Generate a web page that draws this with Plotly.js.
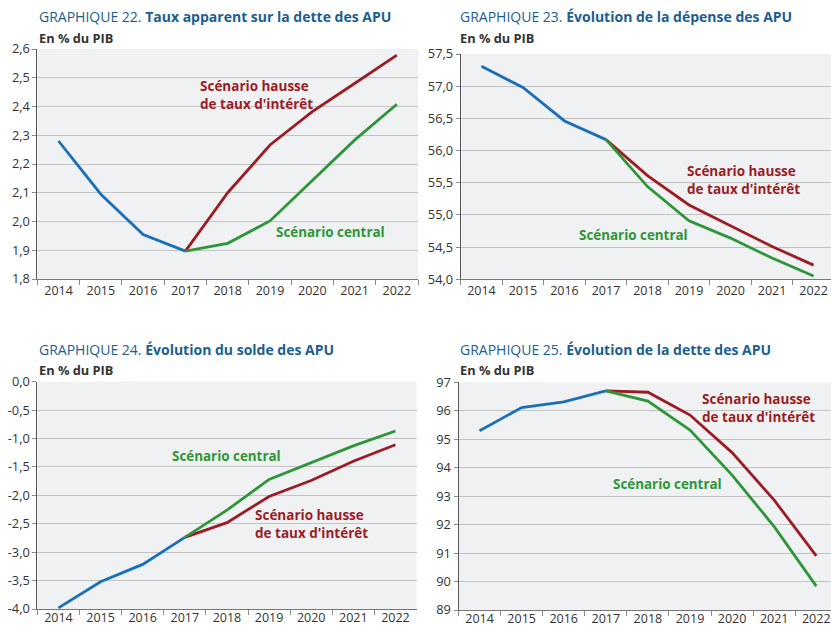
<!DOCTYPE html>
<html>
<head>
<meta charset="utf-8">
<script src="https://cdn.plot.ly/plotly-3.0.1.min.js"></script>
<style>html,body{margin:0;padding:0;background:#fff;}#chart{width:831px;height:629px;}</style>
</head>
<body>
<div id="chart"></div>
<script>
// ---- Data ----
const years = ["2014","2015","2016","2017","2018","2019","2020","2021","2022"];
const histYears = ["2014","2015","2016","2017"];
const projYears = ["2017","2018","2019","2020","2021","2022"];

// Graphique 22 : Taux apparent sur la dette des APU
const g22Hist = [2.28, 2.095, 1.955, 1.897];
const g22Hausse = [1.897, 2.10, 2.266, 2.382, 2.48, 2.579];
const g22Central = [1.897, 1.924, 2.002, 2.144, 2.283, 2.408];

// Graphique 23 : Évolution de la dépense des APU
const g23Hist = [57.31, 56.98, 56.46, 56.17];
const g23Hausse = [56.17, 55.61, 55.155, 54.83, 54.51, 54.22];
const g23Central = [56.17, 55.44, 54.91, 54.64, 54.33, 54.05];

// Graphique 24 : Évolution du solde des APU
const g24Hist = [-3.98, -3.52, -3.215, -2.74];
const g24Hausse = [-2.74, -2.48, -2.02, -1.74, -1.40, -1.11];
const g24Central = [-2.74, -2.26, -1.72, -1.42, -1.13, -0.868];

// Graphique 25 : Évolution de la dette des APU
const g25Hist = [95.30, 96.11, 96.31, 96.70];
const g25Hausse = [96.70, 96.65, 95.85, 94.53, 92.86, 90.90];
const g25Central = [96.70, 96.34, 95.32, 93.74, 91.93, 89.84];

// Tick labels
const g22Ticks = [1.8, 1.9, 2.0, 2.1, 2.2, 2.3, 2.4, 2.5, 2.6];
const g22TickText = ["1,8","1,9","2,0","2,1","2,2","2,3","2,4","2,5","2,6"];
const g23Ticks = [54.0, 54.5, 55.0, 55.5, 56.0, 56.5, 57.0, 57.5];
const g23TickText = ["54,0","54,5","55,0","55,5","56,0","56,5","57,0","57,5"];
const g24Ticks = [-4.0, -3.5, -3.0, -2.5, -2.0, -1.5, -1.0, -0.5, 0.0];
const g24TickText = ["-4,0","-3,5","-3,0","-2,5","-2,0","-1,5","-1,0","-0,5","0,0"];
const g25Ticks = [89, 90, 91, 92, 93, 94, 95, 96, 97];
const g25TickText = ["89","90","91","92","93","94","95","96","97"];

const titles = [
  ["GRAPHIQUE 22. ", "Taux apparent sur la dette des APU"],
  ["GRAPHIQUE 23. ", "Évolution de la dépense des APU"],
  ["GRAPHIQUE 24. ", "Évolution du solde des APU"],
  ["GRAPHIQUE 25. ", "Évolution de la dette des APU"]
];
const unitLabel = "En % du PIB";
const labelHausse = "Scénario hausse<br>de taux d'intérêt";
const labelCentral = "Scénario central";

// ---- Styles ----
const BLUE = "#1a70b8", RED = "#9b1c25", GREEN = "#2e9639", TITLE = "#1c5e8e";
const FONT = "Open Sans, Noto Sans, sans-serif";
const W = 831, H = 629;
const px = v => v / W;
const py = v => 1 - v / H;

const panels = [
  {hist: g22Hist, hausse: g22Hausse, central: g22Central, ticks: g22Ticks, text: g22TickText,
   yr: [1.8, 2.6], xd: [37.4, 418], yd: [279, 49], xr: [-0.5, 8.5], standoff: 0},
  {hist: g23Hist, hausse: g23Hausse, central: g23Central, ticks: g23Ticks, text: g23TickText,
   yr: [54.0, 57.5], xd: [460.7, 831], yd: [279.3, 54], xr: [-0.5, 8.42], standoff: 0},
  {hist: g24Hist, hausse: g24Hausse, central: g24Central, ticks: g24Ticks, text: g24TickText,
   yr: [-4.0, 0.0], xd: [37.4, 416.5], yd: [609, 381.7], xr: [-0.5, 8.5], standoff: -3},
  {hist: g25Hist, hausse: g25Hausse, central: g25Central, ticks: g25Ticks, text: g25TickText,
   yr: [89, 97], xd: [458.5, 831], yd: [610, 382.3], xr: [-0.5, 8.35], standoff: -3}
];

const data = [];
const layout = {
  width: W, height: H,
  margin: {l: 0, r: 0, t: 0, b: 0},
  paper_bgcolor: "#ffffff",
  showlegend: false,
  font: {family: FONT, color: "#333333", size: 12},
  annotations: []
};

panels.forEach((p, i) => {
  const n = i + 1;
  const xa = n === 1 ? "x" : "x" + n;
  const ya = n === 1 ? "y" : "y" + n;
  const common = {mode: "lines", xaxis: xa, yaxis: ya, hoverinfo: "skip", cliponaxis: false};
  data.push(Object.assign({x: histYears, y: p.hist, line: {color: BLUE, width: 2.8}}, common));
  data.push(Object.assign({x: projYears, y: p.hausse, line: {color: RED, width: 2.8}}, common));
  data.push(Object.assign({x: projYears, y: p.central, line: {color: GREEN, width: 2.8}}, common));

  layout["xaxis" + (n === 1 ? "" : n)] = {
    domain: [px(p.xd[0]), px(p.xd[1])],
    anchor: ya,
    type: "category",
    categoryorder: "array",
    categoryarray: years,
    range: p.xr,
    tickson: "boundaries",
    ticks: "outside",
    ticklen: 5,
    tickcolor: "#888888",
    ticklabelstandoff: p.standoff,
    showline: true,
    linecolor: "#777777",
    linewidth: 1,
    showgrid: false,
    zeroline: false,
    fixedrange: true,
    tickfont: {family: FONT, size: 12.5, color: "#333333"}
  };
  layout["yaxis" + (n === 1 ? "" : n)] = {
    domain: [py(p.yd[0]), py(p.yd[1])],
    anchor: xa,
    range: p.yr,
    tickmode: "array",
    tickvals: p.ticks,
    ticktext: p.text,
    ticks: "outside",
    ticklen: 4,
    tickcolor: "#888888",
    showline: true,
    linecolor: "#555555",
    linewidth: 1,
    showgrid: true,
    gridcolor: "#c2c2c2",
    gridwidth: 1,
    zeroline: false,
    fixedrange: true,
    tickfont: {family: FONT, size: 12.8, color: "#333333"}
  };
});

// background rectangles for plot areas
layout.shapes = panels.map(p => ({
  type: "rect", xref: "paper", yref: "paper", layer: "below",
  x0: px(p.xd[0]), x1: px(p.xd[1]), y0: py(p.yd[0]), y1: py(p.yd[1]),
  fillcolor: "#eff1f3", line: {width: 0}
}));

// titles and unit labels
const titlePos = [[37, 16], [458, 16], [37, 350], [458, 350]];
const unitPos = [[37, 38], [458, 38], [37, 370], [458, 370]];
titles.forEach((t, i) => {
  layout.annotations.push({
    xref: "paper", yref: "paper", x: px(titlePos[i][0]), y: py(titlePos[i][1]),
    xanchor: "left", yanchor: "middle", showarrow: false,
    text: t[0] + "<b>" + t[1] + "</b>",
    font: {family: FONT, size: 14, color: TITLE}
  });
  layout.annotations.push({
    xref: "paper", yref: "paper", x: px(unitPos[i][0]), y: py(unitPos[i][1]),
    xanchor: "left", yanchor: "middle", showarrow: false,
    text: "<b>" + unitLabel + "</b>",
    font: {family: FONT, size: 12.8, color: "#333333"}
  });
});

// series labels
const haussePos = [[198, 95], [685, 180], [253, 524], [700, 408]];
const centralPos = [[274, 232], [577, 235], [170, 456], [611, 484]];
haussePos.forEach((pos, i) => {
  layout.annotations.push({
    xref: "paper", yref: "paper", x: px(pos[0]), y: py(pos[1]),
    xanchor: "left", yanchor: "middle", align: "left", showarrow: false,
    text: "<b>" + labelHausse + "</b>",
    font: {family: FONT, size: 13.5, color: RED}
  });
});
centralPos.forEach((pos, i) => {
  layout.annotations.push({
    xref: "paper", yref: "paper", x: px(pos[0]), y: py(pos[1]),
    xanchor: "left", yanchor: "middle", showarrow: false,
    text: "<b>" + labelCentral + "</b>",
    font: {family: FONT, size: 13.4, color: GREEN}
  });
});

Plotly.newPlot("chart", data, layout, {staticPlot: true, displayModeBar: false});
</script>
</body>
</html>
